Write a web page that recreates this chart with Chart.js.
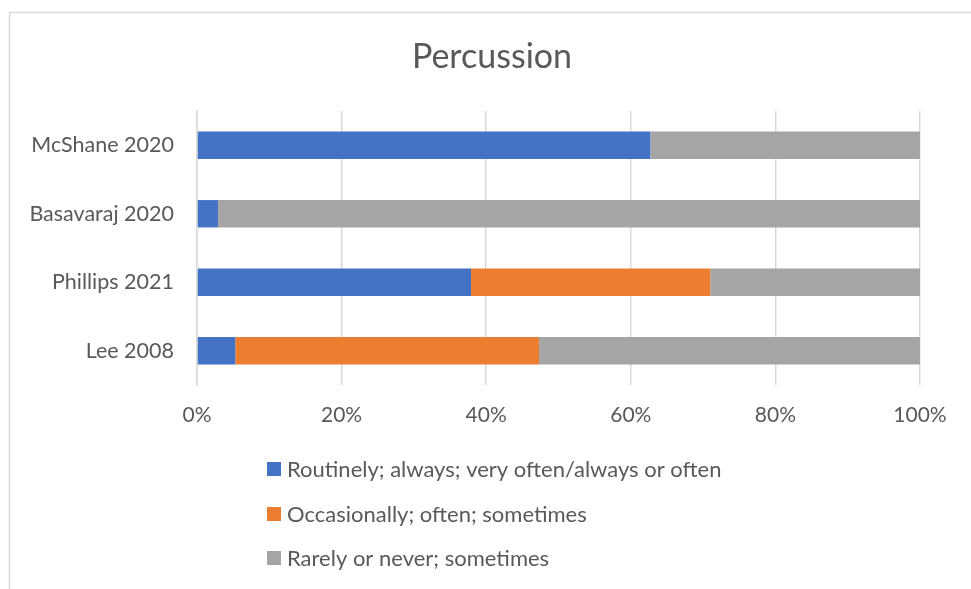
<!DOCTYPE html>
<html>
<head>
<meta charset="utf-8">
<script src="https://cdn.jsdelivr.net/npm/chart.js@4"></script>
<style>
html,body{margin:0;padding:0;background:#fff;}
#wrap{position:relative;width:971px;height:589px;}
</style>
</head>
<body>
<div id="wrap"><canvas id="c" width="971" height="589"></canvas></div>
<script>
const categories = ["McShane 2020", "Basavaraj 2020", "Phillips 2021", "Lee 2008"];
const seriesNames = [
  "Routinely; always; very often/always or often",
  "Occasionally; often; sometimes",
  "Rarely or never; sometimes"
];
const routinely = [62.7, 2.9, 37.9, 5.3];
const occasionally = [0, 0, 33.1, 42.0];
const rarely = [37.3, 97.1, 29.0, 52.7];
const xTicks = ["0%", "20%", "40%", "60%", "80%", "100%"];
const chartTitle = "Percussion";
const colors = ["#4472C4", "#ED7D31", "#A5A5A5"];
const FONT = "Lato, 'Open Sans', sans-serif";
const TXT = "#595959";

const frame = {
  id: 'frame',
  beforeDraw(chart) {
    const ctx = chart.ctx;
    ctx.save();
    ctx.strokeStyle = '#d9d9d9';
    ctx.lineWidth = 1.5;
    ctx.strokeRect(9.5, 12.5, 1000, 700);
    ctx.restore();
  }
};

const titleAndLegend = {
  id: 'titleAndLegend',
  afterDraw(chart) {
    const ctx = chart.ctx;
    ctx.save();
    ctx.fillStyle = TXT;
    ctx.font = "34px " + FONT;
    ctx.textAlign = 'center';
    ctx.textBaseline = 'middle';
    ctx.fillText(chartTitle, 492, 57);

    ctx.font = "22px " + FONT;
    ctx.textAlign = 'left';
    const ys = [469, 514, 558];
    chart.data.datasets.forEach((ds, i) => {
      ctx.fillStyle = ds.backgroundColor;
      ctx.fillRect(267, ys[i] - 7, 14, 14);
      ctx.fillStyle = TXT;
      ctx.fillText(ds.label, 287, ys[i] + 1);
    });
    ctx.restore();
  }
};

new Chart(document.getElementById('c'), {
  type: 'bar',
  data: {
    labels: categories,
    datasets: [
      { label: seriesNames[0], data: routinely, backgroundColor: colors[0] },
      { label: seriesNames[1], data: occasionally, backgroundColor: colors[1] },
      { label: seriesNames[2], data: rarely, backgroundColor: colors[2] }
    ]
  },
  options: {
    indexAxis: 'y',
    responsive: false,
    animation: false,
    devicePixelRatio: 1,
    datasets: { bar: { barPercentage: 0.4, categoryPercentage: 1.0, borderWidth: 0 } },
    layout: { padding: { left: 10, right: 51, top: 111, bottom: 159 } },
    plugins: {
      legend: { display: false },
      tooltip: { enabled: false },
      title: { display: false }
    },
    scales: {
      x: {
        stacked: true,
        min: 0, max: 100,
        afterFit(s) { s.height = 45; },
        ticks: {
          stepSize: 20,
          color: TXT,
          padding: 18,
          font: { family: FONT, size: 21 },
          callback: (v, i) => xTicks[i]
        },
        grid: { color: '#d9d9d9', lineWidth: 1.5, drawTicks: false },
        border: { display: false }
      },
      y: {
        stacked: true,
        afterFit(s) { s.width = 187; },
        ticks: {
          color: TXT,
          padding: 23,
          font: { family: FONT, size: 21.5 }
        },
        grid: { display: false, drawTicks: false },
        border: { display: true, color: '#d9d9d9', width: 1.5 }
      }
    }
  },
  plugins: [frame, titleAndLegend]
});
</script>
</body>
</html>
